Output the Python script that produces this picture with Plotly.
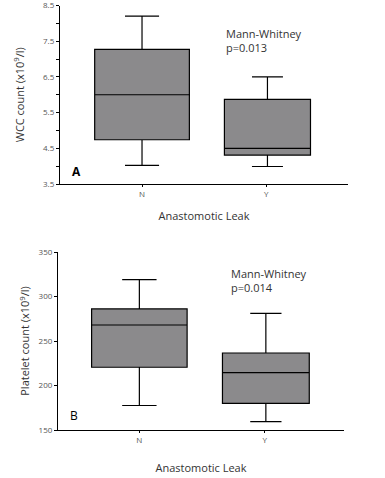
import plotly.graph_objects as go

groups = ["N", "Y"]
positions = [0, 1.02]
box_widths = [0.77, 0.70]

# Panel A: WCC count
wcc_q1 = [4.74, 4.31]
wcc_median = [6.0, 4.5]
wcc_q3 = [7.27, 5.87]
wcc_low = [4.02, 3.99]
wcc_high = [8.2, 6.5]

# Panel B: Platelet count
plt_q1 = [220.5, 180]
plt_median = [268, 214.5]
plt_q3 = [286, 236.5]
plt_low = [177.5, 159.5]
plt_high = [319, 281]

FILL = "#8b8a8c"
FONT = "Open Sans"

fig = go.Figure()

for i, g in enumerate(groups):
    fig.add_trace(go.Box(
        x=[positions[i]], q1=[wcc_q1[i]], median=[wcc_median[i]], q3=[wcc_q3[i]],
        lowerfence=[wcc_low[i]], upperfence=[wcc_high[i]],
        width=box_widths[i], whiskerwidth=0.36,
        fillcolor=FILL, line=dict(color="black", width=1.2),
        xaxis="x", yaxis="y", showlegend=False, hoverinfo="skip"))
    fig.add_trace(go.Box(
        x=[positions[i]], q1=[plt_q1[i]], median=[plt_median[i]], q3=[plt_q3[i]],
        lowerfence=[plt_low[i]], upperfence=[plt_high[i]],
        width=box_widths[i], whiskerwidth=0.36,
        fillcolor=FILL, line=dict(color="black", width=1.2),
        xaxis="x2", yaxis="y2", showlegend=False, hoverinfo="skip"))

W, H = 385, 478
tickfont = dict(family=FONT, size=8, color="#555555")
titlefont = dict(family=FONT, size=11, color="#333333")

common_x = dict(
    tickvals=[0, 1.01], ticktext=groups, showline=True, linecolor="black", linewidth=1.2,
    ticks="outside", ticklen=2, tickcolor="black", showgrid=False, zeroline=False,
    tickfont=tickfont, automargin=False,
)

fig.update_layout(
    width=W, height=H,
    margin=dict(l=0, r=0, t=0, b=0, autoexpand=False),
    paper_bgcolor="white", plot_bgcolor="white",
    xaxis=dict(domain=[60 / W, 348 / W], range=[-0.667, 1.675], anchor="y",
               title=dict(text="Anastomotic Leak", font=titlefont, standoff=14), **common_x),
    yaxis=dict(domain=[1 - 184 / H, 1 - 5.5 / H], range=[3.5, 8.5], anchor="x",
               tickvals=[3.5, 4.5, 5.5, 6.5, 7.5, 8.5],
               ticktext=["3.5", "4.5", "5.5", "6.5", "7.5", "8.5"],
               showline=True, linecolor="black", linewidth=1.2,
               ticks="outside", ticklen=3, tickcolor="black", ticklabeloverflow="allow",
               minor=dict(tickvals=[4, 5, 6, 7, 8], ticks="outside", ticklen=3, tickcolor="black"),
               showgrid=False, zeroline=False, tickfont=tickfont, automargin=False,
               title=dict(text="WCC count (x10<sup>9</sup>/l)", font=titlefont, standoff=16)),
    xaxis2=dict(domain=[58 / W, 344 / W], range=[-0.656, 1.65], anchor="y2",
                title=dict(text="Anastomotic Leak", font=titlefont, standoff=20), **common_x),
    yaxis2=dict(domain=[1 - 430 / H, 1 - 252 / H], range=[150, 350], anchor="x2",
                tickvals=[150, 200, 250, 300, 350],
                showline=True, linecolor="black", linewidth=1.2,
                ticks="outside", ticklen=3, tickcolor="black",
                showgrid=False, zeroline=False, tickfont=tickfont, automargin=False,
                title=dict(text="Platelet count (x10<sup>9</sup>/l)", font=titlefont, standoff=6)),
    annotations=[
        dict(text="Mann-Whitney<br>p=0.013", x=224 / W, y=1 - 24 / H, xref="paper", yref="paper",
             xanchor="left", yanchor="top", showarrow=False, align="left",
             font=dict(family=FONT, size=11, color="#333333")),
        dict(text="<b>A</b>", x=70 / W, y=1 - 172 / H, xref="paper", yref="paper",
             xanchor="left", yanchor="middle", showarrow=False,
             font=dict(family=FONT, size=12, color="black")),
        dict(text="Mann-Whitney<br>p=0.014", x=229 / W, y=1 - 264 / H, xref="paper", yref="paper",
             xanchor="left", yanchor="top", showarrow=False, align="left",
             font=dict(family=FONT, size=11, color="#333333")),
        dict(text="B", x=68 / W, y=1 - 415 / H, xref="paper", yref="paper",
             xanchor="left", yanchor="middle", showarrow=False,
             font=dict(family=FONT, size=12, color="black")),
    ],
)

fig.write_html("out.html", config={"displayModeBar": False},
               post_script="document.body.style.margin='0';document.body.style.overflow='hidden';")
